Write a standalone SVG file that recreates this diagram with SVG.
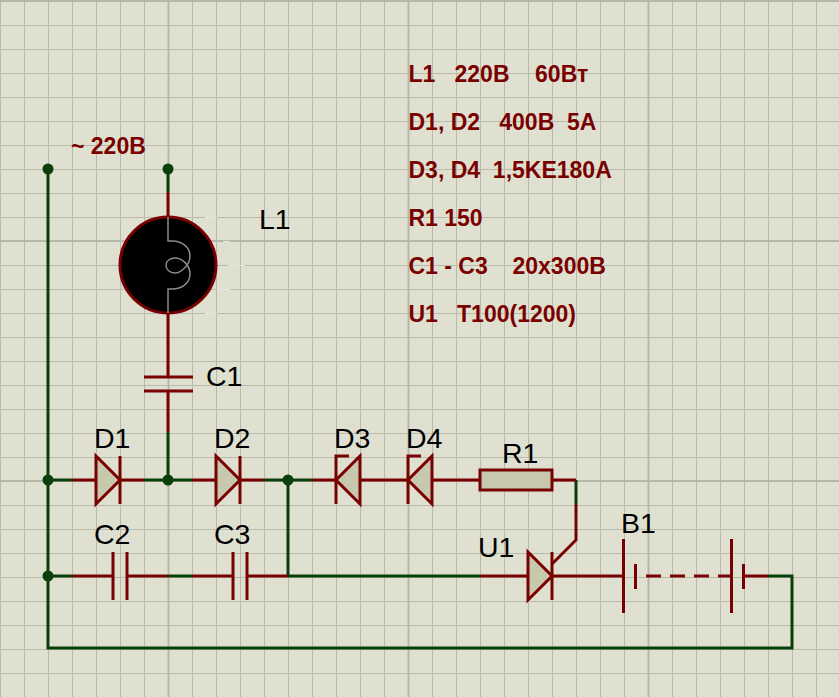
<svg xmlns="http://www.w3.org/2000/svg" width="839" height="697" viewBox="0 0 839 697">
<style>
.bg{fill:#dfe0d0}
.g{stroke:#b9baac;stroke-width:1;fill:none}
.gm{stroke:#b6b7a9;stroke-width:2;fill:none}
.w{stroke:#0a3f0a;stroke-width:3;fill:none}
.r{stroke:#780000;stroke-width:3;fill:none}
.f{stroke:#780000;stroke-width:3;fill:#c8c8ae}
.d{fill:#0a3f0a}
.t{font-family:"Liberation Sans",Arial,sans-serif;font-size:28.5px;fill:#000}
.n{font-family:"Liberation Sans",Arial,sans-serif;font-size:23px;font-weight:bold;fill:#7a0000;white-space:pre}
</style>
<defs>
<g id="diode"><path class="f" d="M-12 -24L12 0L-12 24Z"/><path class="r" d="M12 -24V24"/></g>
<g id="cap"><path class="r" d="M-7 -24V24M7 -24V24"/></g>
</defs>
<rect class="bg" width="839" height="697"/>
<g id="grid">
<path class="g" d="M0.5 0V697M24.5 0V697M48.5 0V697M72.5 0V697M96.5 0V697M120.5 0V697M144.5 0V697M192.5 0V697M216.5 0V697M240.5 0V697M264.5 0V697M288.5 0V697M312.5 0V697M336.5 0V697M360.5 0V697M384.5 0V697M432.5 0V697M456.5 0V697M480.5 0V697M504.5 0V697M528.5 0V697M552.5 0V697M576.5 0V697M600.5 0V697M624.5 0V697M672.5 0V697M696.5 0V697M720.5 0V697M744.5 0V697M768.5 0V697M792.5 0V697M816.5 0V697"/>
<path class="g" d="M0 25.5H839M0 49.5H839M0 73.5H839M0 97.5H839M0 121.5H839M0 145.5H839M0 169.5H839M0 193.5H839M0 217.5H839M0 265.5H839M0 289.5H839M0 313.5H839M0 337.5H839M0 361.5H839M0 385.5H839M0 409.5H839M0 433.5H839M0 457.5H839M0 505.5H839M0 529.5H839M0 553.5H839M0 577.5H839M0 601.5H839M0 625.5H839M0 649.5H839M0 673.5H839"/>
<path class="gm" d="M168.5 0V697M408.5 0V697M648.5 0V697M0 1H839M0 241H839M0 481H839"/>
<path stroke="#e6e7da" stroke-width="1" fill="none" d="M205 217.5H217M223 241.5H230M228 265.5H245M217 289.5H230M205 313.5H217"/>
</g>
<g id="connectors">
<path class="w" d="M48 169V648H792V576H768"/>
<path class="w" d="M168 169V192"/>
<path class="w" d="M48 480H72M144 480H192M264 480H312M168 432V480"/>
<path class="w" d="M48 576H72M168 576H192M288 480V576M288 576H480"/>
<path class="w" d="M576 480V504"/>
<path class="r" d="M168 192V217M168 313V377M168 391V432"/>
<path class="r" d="M72 480H96M120 480H144M192 480H216M240 480H264M312 480H336M360 480H408M432 480H480M552 480H576"/>
<path class="r" d="M576 504V540L552 564"/>
<path class="r" d="M72 576H113M127 576H168M192 576H233M247 576H288M480 576H528M552 576H623"/>
<circle class="d" cx="48" cy="169" r="5.5"/>
<circle class="d" cx="168" cy="169" r="5.5"/>
<circle class="d" cx="48" cy="480" r="5.5"/>
<circle class="d" cx="168" cy="480" r="5.5"/>
<circle class="d" cx="288" cy="480" r="5.5"/>
<circle class="d" cx="48" cy="576" r="5.5"/>
</g>
<g id="L1">
<circle cx="168" cy="265" r="48" fill="#000" stroke="#780000" stroke-width="3"/>
<path fill="none" stroke="#8a8a8a" stroke-width="1.5" d="M168 217V241H172C182 241 190 247 190 256C190 266 180 273 175 273C169 273 166 269 166 265C166 261 170 258 175 258C182 258 190 265 190 274C190 283 182 289 172 289H168V313"/>
<text class="t" x="259" y="229">L1</text>
</g>
<g id="C1"><path class="r" d="M144 377H193M144 391H193"/><text class="t" x="206" y="386">C1</text></g>
<g id="D1"><use href="#diode" x="108" y="480"/><text class="t" x="94" y="448">D1</text></g>
<g id="D2"><use href="#diode" x="228" y="480"/><text class="t" x="214" y="448">D2</text></g>
<g id="D3"><path class="f" d="M360 456L336 480L360 504Z"/><path class="r" d="M349 456H336V504"/><text class="t" x="334" y="448">D3</text></g>
<g id="D4"><path class="f" d="M432 456L408 480L432 504Z"/><path class="r" d="M421 456H408V504"/><text class="t" x="406" y="448">D4</text></g>
<g id="R1"><rect class="f" x="480" y="470" width="72" height="20"/><text class="t" x="502" y="463">R1</text></g>
<g id="C2"><use href="#cap" x="120" y="576"/><text class="t" x="94" y="544">C2</text></g>
<g id="C3"><use href="#cap" x="240" y="576"/><text class="t" x="214" y="544">C3</text></g>
<g id="U1"><use href="#diode" x="540" y="576"/><text class="t" x="478" y="557">U1</text></g>
<g id="B1">
<path class="r" d="M623.5 539V613M635.5 564V589M731.5 539V613M743.5 564V589M743.5 576H768"/>
<path class="r" d="M646 576H661M670 576H685M694 576H709M718 576H731"/>
<text class="t" x="621" y="533">B1</text>
</g>
<g id="notes">
<text class="n" x="71" y="154">~ 220В</text>
<text class="n" x="408.5" y="82">L1   220В    60Вт</text>
<text class="n" x="408.5" y="130">D1, D2   400В  5А</text>
<text class="n" x="408.5" y="178">D3, D4  1,5KE180A</text>
<text class="n" x="408.5" y="226">R1 150</text>
<text class="n" x="408.5" y="274">C1 - C3<tspan x="512.5">20x300В</tspan></text>
<text class="n" x="408.5" y="322">U1   T100(1200)</text>
</g>
</svg>
